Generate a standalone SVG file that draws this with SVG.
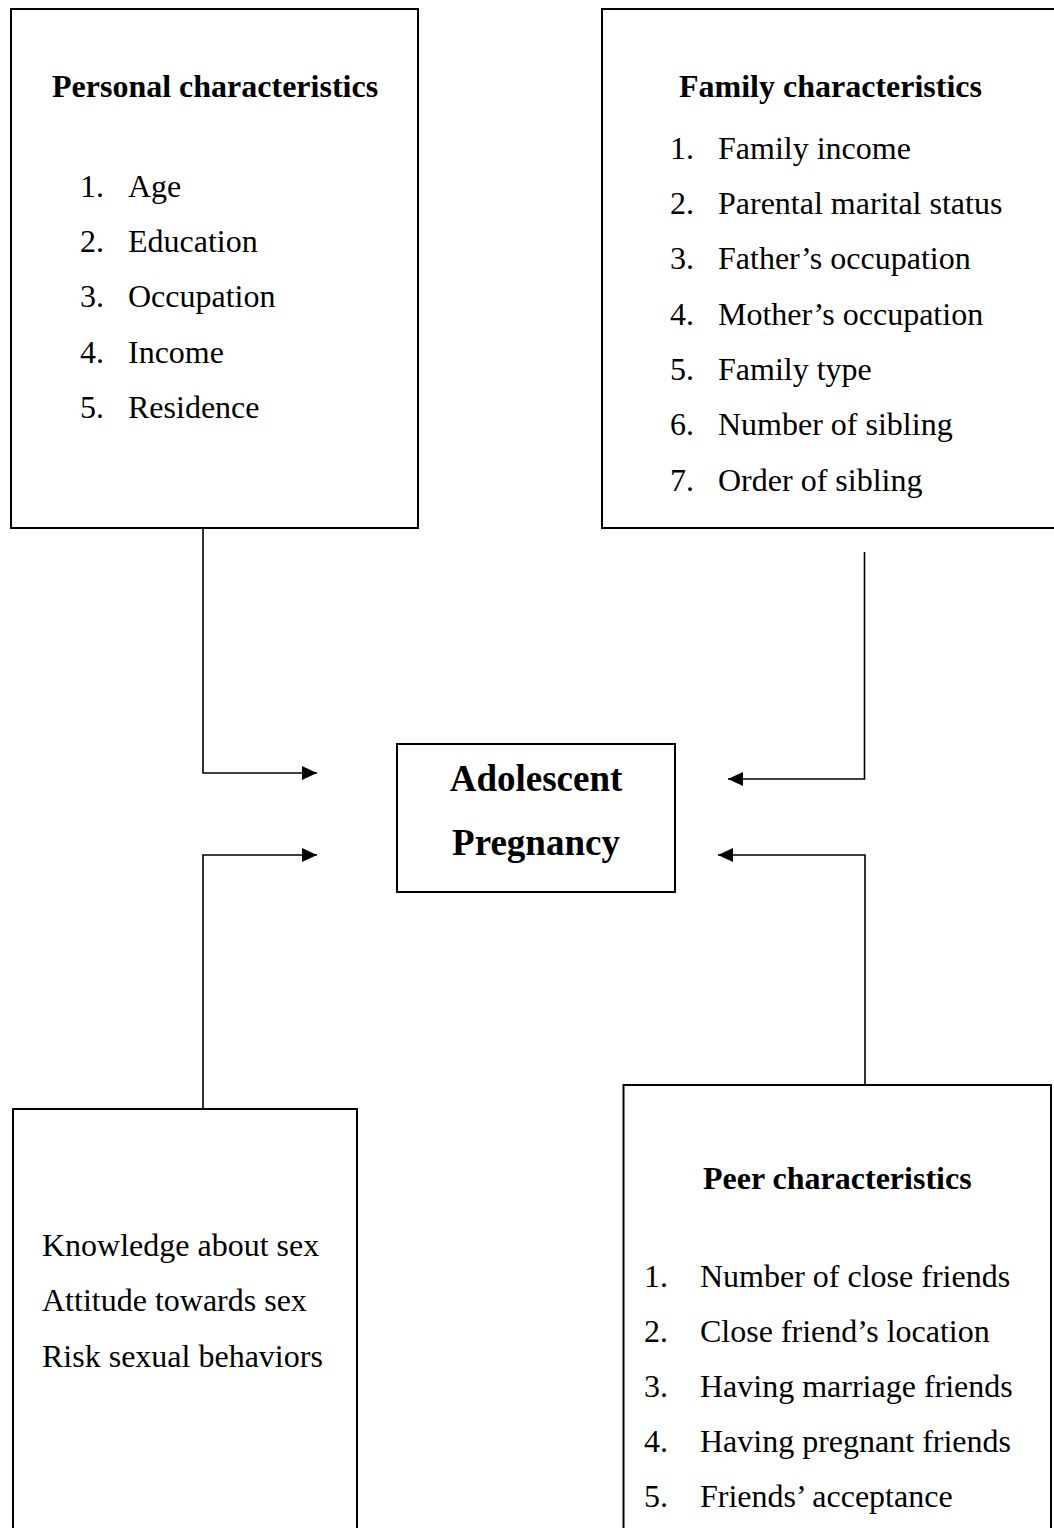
<svg xmlns="http://www.w3.org/2000/svg" width="1054" height="1528" viewBox="0 0 1054 1528">
<style>
.box{fill:#fff;stroke:#000;stroke-width:2}
.t{font-family:"Liberation Serif","Times New Roman",serif;font-size:32px;fill:#000}
.b{font-weight:bold}
.c{font-family:"Liberation Serif","Times New Roman",serif;font-size:37px;font-weight:bold;fill:#000;text-anchor:middle}
.conn{fill:none;stroke:#000;stroke-width:1.6}
</style>
<defs>
<marker id="ah" viewBox="0 0 15 14" refX="15" refY="7" markerWidth="15" markerHeight="14" markerUnits="userSpaceOnUse" orient="auto">
<path d="M0,0 L15,7 L0,14 z" fill="#000"/>
</marker>
</defs>
<rect width="1054" height="1528" fill="#fff"/>
<g id="personal">
<rect class="box" x="11" y="9" width="407" height="519"/>
<text class="t b" x="52" y="97">Personal characteristics</text>
<text class="t" x="80" y="197">1.</text><text class="t" x="128" y="197">Age</text>
<text class="t" x="80" y="252">2.</text><text class="t" x="128" y="252">Education</text>
<text class="t" x="80" y="307">3.</text><text class="t" x="128" y="307">Occupation</text>
<text class="t" x="80" y="363">4.</text><text class="t" x="128" y="363">Income</text>
<text class="t" x="80" y="418">5.</text><text class="t" x="128" y="418">Residence</text>
</g>
<g id="family">
<rect class="box" x="602" y="9" width="470" height="519"/>
<text class="t b" x="679" y="97">Family characteristics</text>
<text class="t" x="670" y="159">1.</text><text class="t" x="718" y="159">Family income</text>
<text class="t" x="670" y="214">2.</text><text class="t" x="718" y="214">Parental marital status</text>
<text class="t" x="670" y="269">3.</text><text class="t" x="718" y="269">Father’s occupation</text>
<text class="t" x="670" y="325">4.</text><text class="t" x="718" y="325">Mother’s occupation</text>
<text class="t" x="670" y="380">5.</text><text class="t" x="718" y="380">Family type</text>
<text class="t" x="670" y="435">6.</text><text class="t" x="718" y="435">Number of sibling</text>
<text class="t" x="670" y="491">7.</text><text class="t" x="718" y="491">Order of sibling</text>
</g>
<g id="center">
<rect class="box" x="397" y="744" width="278" height="148"/>
<text class="c" x="536" y="791">Adolescent</text>
<text class="c" x="536" y="855">Pregnancy</text>
</g>
<g id="sexual">
<rect class="box" x="13" y="1109" width="344" height="440"/>
<text class="t" x="42" y="1256">Knowledge about sex</text>
<text class="t" x="42" y="1311">Attitude towards sex</text>
<text class="t" x="42" y="1367">Risk sexual behaviors</text>
</g>
<g id="peer">
<rect class="box" x="623.5" y="1085" width="427.5" height="460"/>
<text class="t b" x="703" y="1189">Peer characteristics</text>
<text class="t" x="644" y="1287">1.</text><text class="t" x="700" y="1287">Number of close friends</text>
<text class="t" x="644" y="1342">2.</text><text class="t" x="700" y="1342">Close friend’s location</text>
<text class="t" x="644" y="1397">3.</text><text class="t" x="700" y="1397">Having marriage friends</text>
<text class="t" x="644" y="1452">4.</text><text class="t" x="700" y="1452">Having pregnant friends</text>
<text class="t" x="644" y="1507">5.</text><text class="t" x="700" y="1507">Friends’ acceptance</text>
</g>
<g id="connectors">
<path class="conn" d="M203,528 V773 H317" marker-end="url(#ah)"/>
<path class="conn" d="M203,1109 V855 H317" marker-end="url(#ah)"/>
<path class="conn" d="M864.5,552 V779 H728" marker-end="url(#ah)"/>
<path class="conn" d="M865,1085 V855 H718" marker-end="url(#ah)"/>
</g>
</svg>
